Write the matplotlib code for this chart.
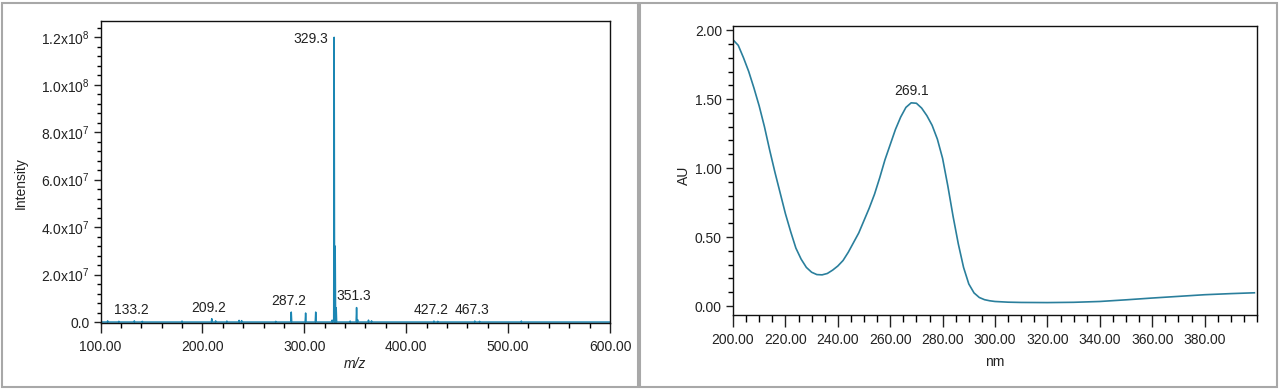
import matplotlib.pyplot as plt
import numpy as np
from matplotlib.patches import Rectangle
from matplotlib.ticker import MultipleLocator

plt.rcParams['font.family'] = ['Liberation Sans', 'DejaVu Sans']
plt.rcParams['mathtext.fontset'] = 'custom'
plt.rcParams['mathtext.rm'] = 'Liberation Sans'

# --- mass spectrum (left), peaks ---
ms_mz = [107.0, 118.0, 133.2, 141.0, 180.0, 209.2, 213.0, 224.0, 236.0, 238.5,
         272.0, 287.2, 301.3, 311.2, 327.3, 329.3, 330.3, 331.3, 345.0, 351.3,
         352.3, 363.0, 366.0, 427.2, 431.0, 467.3, 472.0, 513.0]
ms_int = [0.5e6, 0.3e6, 0.5e6, 0.3e6, 0.4e6, 1.4e6, 0.5e6, 0.4e6, 0.7e6, 0.6e6,
          0.3e6, 4.2e6, 3.8e6, 4.2e6, 0.8e6, 1.2e8, 3.2e7, 6.0e6, 0.4e6, 6.1e6,
          1.0e6, 0.8e6, 0.5e6, 0.4e6, 0.3e6, 0.4e6, 0.3e6, 0.4e6]

ms_labels = ['133.2', '209.2', '287.2', '351.3', '427.2', '467.3']
ms_label_mz = [133.2, 209.2, 287.2, 351.3, 427.2, 467.3]
ms_label_int = [0.5e6, 1.4e6, 4.2e6, 6.1e6, 0.4e6, 0.4e6]
base_label = '329.3'
base_mz = 329.3
base_int = 1.2e8

ms_yticks = [0, 2e7, 4e7, 6e7, 8e7, 1e8, 1.2e8]
ms_yticklabels = ['0.0', r'$\mathregular{2.0x10^{7}}$', r'$\mathregular{4.0x10^{7}}$',
                  r'$\mathregular{6.0x10^{7}}$', r'$\mathregular{8.0x10^{7}}$',
                  r'$\mathregular{1.0x10^{8}}$', r'$\mathregular{1.2x10^{8}}$']
ms_xticks = [100, 200, 300, 400, 500, 600]

# --- UV spectrum (right) ---
uv_nm = [200, 202, 204, 206, 208, 210, 212, 214, 216, 218,
         220, 222, 224, 226, 228, 230, 232, 234, 236, 238,
         240, 242, 244, 246, 248, 250, 252, 254, 256, 258,
         260, 262, 264, 266, 268, 270, 272, 274, 276, 278,
         280, 282, 284, 286, 288, 290, 292, 294, 296, 298,
         300, 305, 310, 320, 330, 340, 350, 360, 370, 380,
         390, 399]
uv_au = [1.93, 1.89, 1.80, 1.70, 1.58, 1.45, 1.30, 1.13, 0.97, 0.82,
         0.67, 0.54, 0.42, 0.34, 0.28, 0.245, 0.228, 0.226, 0.236, 0.26,
         0.29, 0.33, 0.39, 0.46, 0.53, 0.62, 0.71, 0.81, 0.93, 1.06,
         1.17, 1.28, 1.37, 1.44, 1.473, 1.47, 1.435, 1.38, 1.31, 1.21,
         1.07, 0.87, 0.65, 0.45, 0.28, 0.16, 0.095, 0.062, 0.046, 0.038,
         0.033, 0.028, 0.026, 0.025, 0.027, 0.033, 0.045, 0.058, 0.070, 0.082,
         0.090, 0.096]
uv_peak_label = '269.1'
uv_peak_nm = 269.1
uv_peak_au = 1.478
uv_xticks = [200, 220, 240, 260, 280, 300, 320, 340, 360, 380]
uv_yticks = [0.0, 0.5, 1.0, 1.5, 2.0]

line_col = '#1b86b3'
uv_col = '#2a7f9c'
txt_col = '#222222'
fs = 10

fig = plt.figure(figsize=(12.8, 3.9), dpi=100)

# panel frames
fig.add_artist(Rectangle((2 / 1280, 3 / 390), 636 / 1280, 384 / 390, transform=fig.transFigure,
                         fill=False, ec='#a8a8a8', lw=1.5))
fig.add_artist(Rectangle((640 / 1280, 3 / 390), 637 / 1280, 384 / 390, transform=fig.transFigure,
                         fill=False, ec='#a8a8a8', lw=1.5))

# ---------- left: mass spectrum ----------
ax1 = fig.add_axes([100.5 / 1280, 1 - 323 / 390, 509.5 / 1280, 302 / 390])
# each centroid drawn as a narrow spike on a zero baseline
px, py = [100.0], [0.0]
for m, h in zip(ms_mz, ms_int):
    px += [m - 0.45, m, m + 0.45]
    py += [0.0, h, 0.0]
px.append(600.0)
py.append(0.0)
ax1.plot(px, py, color=line_col, lw=1.1)

ax1.set_xlim(100, 600)
ax1.set_ylim(-0.4e6, 1.2687e8)
ax1.set_xticks(ms_xticks)
ax1.set_xticklabels(['%.2f' % v for v in ms_xticks])
ax1.xaxis.set_minor_locator(MultipleLocator(20))
ax1.set_yticks(ms_yticks)
ax1.set_yticklabels(ms_yticklabels)
ax1.yaxis.set_minor_locator(MultipleLocator(4e6))
ax1.tick_params(axis='x', which='major', length=7.5, width=1, pad=5, labelsize=fs, colors=txt_col)
ax1.tick_params(axis='x', which='minor', length=3.8, width=1)
ax1.tick_params(axis='y', which='major', length=5, width=1, pad=3, labelsize=fs, colors=txt_col)
ax1.tick_params(axis='y', which='minor', length=3, width=1)
for s in ax1.spines.values():
    s.set_linewidth(1.0)
    s.set_color('#111111')

for lab, m, h in zip(ms_labels, ms_label_mz, ms_label_int):
    ax1.annotate(lab, (m, h), xytext=(-2, 3), textcoords='offset points',
                 ha='center', va='bottom', fontsize=fs, color=txt_col)
ax1.annotate(base_label, (base_mz, base_int), xytext=(-4, -1.5), textcoords='offset points',
             ha='right', va='center', fontsize=fs, color=txt_col)

ax1.set_xlabel('m/z', fontsize=fs, style='italic', color=txt_col, labelpad=2)
ax1.set_ylabel('Intensity', fontsize=fs, color=txt_col)
ax1.yaxis.set_label_coords(-0.143, 0.464)

# ---------- right: UV spectrum ----------
ax2 = fig.add_axes([733 / 1280, 1 - 315 / 390, 524 / 1280, 289 / 390])
ax2.plot(uv_nm, uv_au, color=uv_col, lw=1.2)
ax2.set_xlim(200, 400)
ax2.set_ylim(-0.065, 2.03)
ax2.set_xticks(uv_xticks)
ax2.set_xticklabels(['%.2f' % v for v in uv_xticks])
ax2.xaxis.set_minor_locator(MultipleLocator(5))
ax2.set_yticks(uv_yticks)
ax2.set_yticklabels(['%.2f' % v for v in uv_yticks])
ax2.yaxis.set_minor_locator(MultipleLocator(0.1))
ax2.tick_params(axis='x', which='major', length=8.4, width=1, pad=4.5, labelsize=fs, colors=txt_col)
ax2.tick_params(axis='x', which='minor', length=4.8, width=1)
ax2.tick_params(axis='y', which='major', length=5, width=1, pad=3, labelsize=fs, colors=txt_col)
ax2.tick_params(axis='y', which='minor', length=3.5, width=1)
for s in ax2.spines.values():
    s.set_linewidth(1.0)
    s.set_color('#111111')

ax2.annotate(uv_peak_label, (uv_peak_nm, uv_peak_au), xytext=(-1.5, 3), textcoords='offset points',
             ha='center', va='bottom', fontsize=fs, color=txt_col)
ax2.set_xlabel('nm', fontsize=fs, color=txt_col, labelpad=6)
ax2.set_ylabel('AU', fontsize=fs, color=txt_col)
ax2.yaxis.set_label_coords(-0.080, 0.484)

fig.savefig('out.png', dpi=100)
